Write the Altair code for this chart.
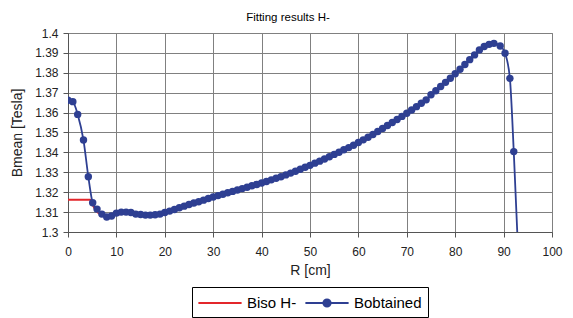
import altair as alt
import pandas as pd

# Bobtained series (R in cm, Bmean in Tesla)
R_OBT = [0, 1, 2, 3.2, 4.2, 5.1, 6, 7, 8, 9, 10, 11, 12, 13, 14, 15, 16, 17, 18, 19,
         20, 21, 22, 23, 24, 25, 26, 27, 28, 29, 30, 31, 32, 33, 34, 35, 36, 37, 38, 39,
         40, 41, 42, 43, 44, 45, 46, 47, 48, 49, 50, 51, 52, 53, 54, 55, 56, 57, 58, 59,
         60, 61, 62, 63, 64, 65, 66, 67, 68, 69, 70, 71, 72, 73, 74, 75, 76, 77, 78, 79,
         80, 81, 82, 83, 84, 85, 86, 87, 88, 89.3, 90.3, 91.3, 92.1, 93]
B_OBT = [1.3662, 1.3655, 1.3591, 1.3462, 1.3278, 1.3147, 1.3115, 1.3090, 1.3075, 1.3080,
         1.3095, 1.3100, 1.3100, 1.3098, 1.3090, 1.3088, 1.3085, 1.3085, 1.3087, 1.3090,
         1.3098, 1.3105, 1.3113, 1.3122, 1.3130, 1.3138, 1.3146, 1.3152, 1.3160, 1.3168,
         1.3176, 1.3183, 1.3190, 1.3197, 1.3204, 1.3211, 1.3218, 1.3225, 1.3232, 1.3239,
         1.3246, 1.3254, 1.3262, 1.3270, 1.3278, 1.3287, 1.3296, 1.3305, 1.3315, 1.3325,
         1.3335, 1.3346, 1.3356, 1.3367, 1.3378, 1.3390, 1.3401, 1.3413, 1.3424, 1.3436,
         1.3450, 1.3463, 1.3476, 1.3490, 1.3505, 1.3520, 1.3535, 1.3550, 1.3565, 1.3581,
         1.3597, 1.3613, 1.3630, 1.3647, 1.3664, 1.3690, 1.3710, 1.3731, 1.3752, 1.3773,
         1.3795, 1.3818, 1.3842, 1.3866, 1.3890, 1.3915, 1.3932, 1.3943, 1.3948, 1.3935,
         1.3898, 1.3772, 1.3404, 1.2900]

# Biso H- series
R_ISO = [0, 4.6, 5.2, 7, 9, 11, 13, 16, 18, 20]
B_ISO = [1.3162, 1.3162, 1.3130, 1.3085, 1.3082, 1.3090, 1.3090, 1.3083, 1.3085, 1.3095]

# axis tick values
X_TICKS = [0, 10, 20, 30, 40, 50, 60, 70, 80, 90, 100]
Y_TICKS = [1.30, 1.31, 1.32, 1.33, 1.34, 1.35, 1.36, 1.37, 1.38, 1.39, 1.40]

SERIES = ["Biso H-", "Bobtained"]
COLORS = ["#E3262B", "#2E3F92"]

df = pd.concat([
    pd.DataFrame({"R": R_ISO, "B": B_ISO, "series": SERIES[0], "order": range(len(R_ISO))}),
    pd.DataFrame({"R": R_OBT, "B": B_OBT, "series": SERIES[1], "order": range(len(R_OBT))}),
])

PATH_LINE = "M-2.4,0H2.4"
PATH_DOT = "M-2.4,0H2.4M-0.4,0A0.4,0.4 0 1,0 0.4,0A0.4,0.4 0 1,0 -0.4,0Z"

x_enc = alt.X("R:Q", title="R [cm]",
              scale=alt.Scale(domain=[0, 100], nice=False),
              axis=alt.Axis(values=X_TICKS, tickSize=5, labelPadding=9,
                            titlePadding=6, labelFontSize=12, titleFontSize=14,
                            labelFlush=False, labelOverlap=False))
y_enc = alt.Y("B:Q", title="Bmean [Tesla]",
              scale=alt.Scale(domain=[1.3, 1.4], nice=False, zero=False),
              axis=alt.Axis(values=Y_TICKS, format=".2~f", tickSize=5, labelPadding=5,
                            titlePadding=10, labelFontSize=12, titleFontSize=14,
                            labelFlush=False, labelOverlap=False))

color_scale = alt.Scale(domain=SERIES, range=COLORS)

lines = alt.Chart(df).mark_line(interpolate="monotone", strokeWidth=1.8, clip=True).encode(
    x=x_enc, y=y_enc,
    order="order:Q",
    color=alt.Color("series:N", scale=color_scale, title=None,
                    legend=alt.Legend(
                        orient="none", legendX=124, legendY=254, direction="horizontal",
                        symbolSize=324, symbolStrokeWidth=2, labelFontSize=15,
                        symbolOffset=12, labelOffset=17, columnPadding=4, padding=6,
                        strokeColor="#000000", labelColor="#000000",
                        symbolType=alt.ExprRef(
                            "datum.value === 'Bobtained' ? '" + PATH_DOT + "' : '" + PATH_LINE + "'"),
                        symbolFillColor=alt.ExprRef(
                            "datum.value === 'Bobtained' ? '#2E3F92' : 'transparent'"),
                    )),
)

points = alt.Chart(df).transform_filter(alt.datum.series == "Bobtained").mark_point(
    filled=True, size=55, opacity=1, clip=True).encode(
    x=x_enc, y=y_enc,
    color=alt.Color("series:N", scale=color_scale, legend=None),
)

chart = alt.layer(lines, points).properties(
    width=484, height=199,
    title=alt.TitleParams("Fitting results H-", fontSize=11.5, fontWeight="normal",
                          anchor="middle", offset=4, dx=-22, color="#000000"),
    autosize=alt.AutoSizeParams(type="none"),
    padding={"left": 60, "top": 25, "right": 13, "bottom": 86},
).configure(font="Liberation Sans").configure_axis(
    gridColor="#808080", gridOpacity=1, gridWidth=1,
    domainColor="#555555", tickColor="#555555",
    labelColor="#222222", titleColor="#222222", titleFontWeight="normal",
).configure_view(stroke="#808080", strokeWidth=1)

chart.save("out.html", embed_options={"renderer": "svg", "actions": False})
